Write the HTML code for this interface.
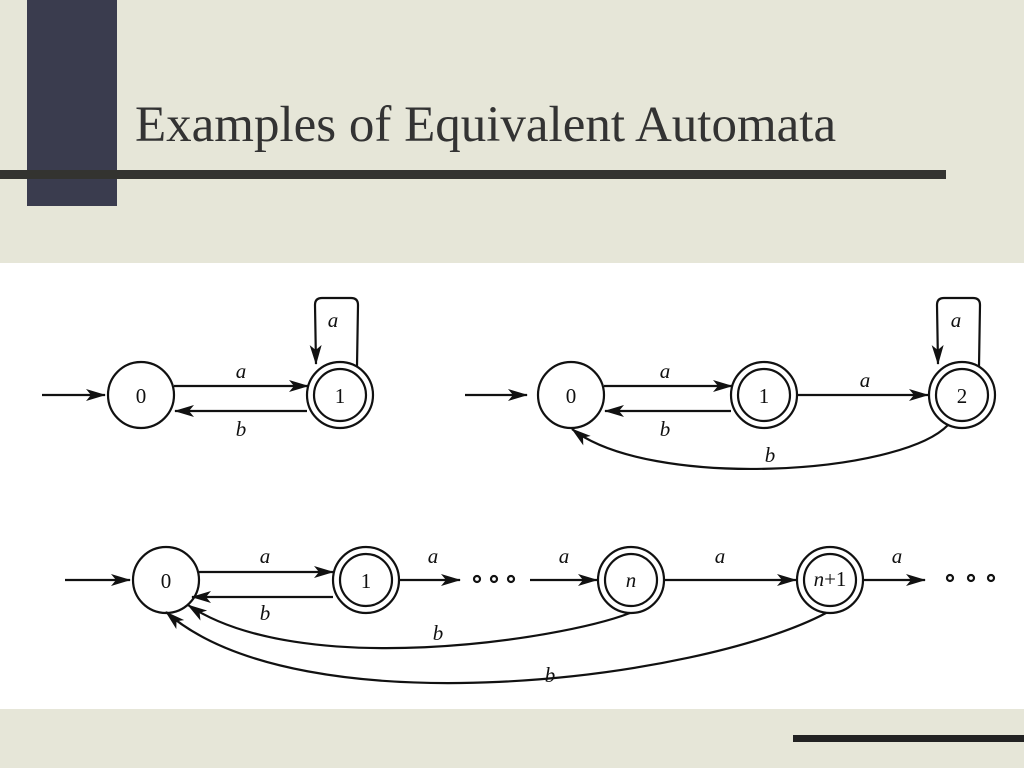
<!DOCTYPE html>
<html><head><style>
html,body{margin:0;padding:0;}
body{width:1024px;height:768px;position:relative;overflow:hidden;background:#e6e6d8;font-family:"Liberation Serif",serif;}
.sq{position:absolute;left:27px;top:0;width:90px;height:206px;background:#3a3c4e;}
.bar{position:absolute;left:0;top:170px;width:946px;height:9px;background:#333330;}
.bar2{position:absolute;left:793px;top:735px;width:231px;height:7px;background:#222;}
h1{position:absolute;left:135px;top:96px;margin:0;font-weight:normal;font-size:51px;color:#333;white-space:nowrap;}
.white{position:absolute;left:0;top:263px;width:1024px;height:446px;background:#fff;}
svg{position:absolute;left:0;top:0;}
text{font-family:"Liberation Serif",serif;font-size:21px;}
</style></head><body>
<div class="sq"></div><div class="bar"></div>
<h1>Examples of Equivalent Automata</h1>
<div class="white"></div>
<div class="bar2"></div>
<svg width="1024" height="768" viewBox="0 0 1024 768">
<defs><marker id="ah" markerWidth="20" markerHeight="12" refX="19" refY="6" orient="auto" markerUnits="userSpaceOnUse"><path d="M0,0 L20,6 L0,12 L5,6 Z" fill="#111"/></marker></defs>
<g stroke="#111" stroke-width="2.2" fill="none">
<!-- automaton 1 -->
<line x1="42" y1="395" x2="105" y2="395" marker-end="url(#ah)"/>
<circle cx="141" cy="395" r="33"/>
<circle cx="340" cy="395" r="33"/><circle cx="340" cy="395" r="26"/>
<line x1="174" y1="386" x2="308" y2="386" marker-end="url(#ah)"/>
<line x1="307" y1="411" x2="175" y2="411" marker-end="url(#ah)"/>
<path d="M357,366 L358,305 Q358,298 351,298 L322,298 Q315,298 315,305 L316,364" marker-end="url(#ah)"/>
<!-- automaton 2 -->
<line x1="465" y1="395" x2="527" y2="395" marker-end="url(#ah)"/>
<circle cx="571" cy="395" r="33"/>
<circle cx="764" cy="395" r="33"/><circle cx="764" cy="395" r="26"/>
<circle cx="962" cy="395" r="33"/><circle cx="962" cy="395" r="26"/>
<line x1="604" y1="386" x2="732" y2="386" marker-end="url(#ah)"/>
<line x1="731" y1="411" x2="605" y2="411" marker-end="url(#ah)"/>
<line x1="797" y1="395" x2="928" y2="395" marker-end="url(#ah)"/>
<path d="M948,425 C900,475 650,490 572,429" marker-end="url(#ah)"/>
<path d="M979,366 L980,305 Q980,298 973,298 L944,298 Q937,298 937,305 L938,364" marker-end="url(#ah)"/>
<!-- automaton 3 -->
<line x1="65" y1="580" x2="130" y2="580" marker-end="url(#ah)"/>
<circle cx="166" cy="580" r="33"/>
<circle cx="366" cy="580" r="33"/><circle cx="366" cy="580" r="26"/>
<circle cx="631" cy="580" r="33"/><circle cx="631" cy="580" r="26"/>
<circle cx="830" cy="580" r="33"/><circle cx="830" cy="580" r="26"/>
<line x1="199" y1="572" x2="333" y2="572" marker-end="url(#ah)"/>
<line x1="333" y1="597" x2="192" y2="597" marker-end="url(#ah)"/>
<line x1="399" y1="580" x2="460" y2="580" marker-end="url(#ah)"/>
<line x1="530" y1="580" x2="597" y2="580" marker-end="url(#ah)"/>
<line x1="664" y1="580" x2="796" y2="580" marker-end="url(#ah)"/>
<line x1="863" y1="580" x2="925" y2="580" marker-end="url(#ah)"/>
<path d="M630,613 C560,640 300,680 188,605" marker-end="url(#ah)"/>
<path d="M826,613 C700,680 300,730 166,612" marker-end="url(#ah)"/>
<circle cx="477" cy="579" r="3"/><circle cx="494" cy="579" r="3"/><circle cx="511" cy="579" r="3"/>
<circle cx="950" cy="578" r="3"/><circle cx="971" cy="578" r="3"/><circle cx="991" cy="578" r="3"/>
</g>
<g fill="#111">
<text x="141" y="403" text-anchor="middle">0</text>
<text x="340" y="403" text-anchor="middle">1</text>
<text x="241" y="378" font-style="italic" text-anchor="middle">a</text>
<text x="241" y="436" font-style="italic" text-anchor="middle">b</text>
<text x="333" y="327" font-style="italic" text-anchor="middle">a</text>
<text x="571" y="403" text-anchor="middle">0</text>
<text x="764" y="403" text-anchor="middle">1</text>
<text x="962" y="403" text-anchor="middle">2</text>
<text x="665" y="378" font-style="italic" text-anchor="middle">a</text>
<text x="665" y="436" font-style="italic" text-anchor="middle">b</text>
<text x="865" y="387" font-style="italic" text-anchor="middle">a</text>
<text x="770" y="462" font-style="italic" text-anchor="middle">b</text>
<text x="956" y="327" font-style="italic" text-anchor="middle">a</text>
<text x="166" y="588" text-anchor="middle">0</text>
<text x="366" y="588" text-anchor="middle">1</text>
<text x="631" y="587" font-style="italic" text-anchor="middle">n</text>
<text x="830" y="586" font-size="17" text-anchor="middle"><tspan font-style="italic">n</tspan>+1</text>
<text x="265" y="563" font-style="italic" text-anchor="middle">a</text>
<text x="265" y="620" font-style="italic" text-anchor="middle">b</text>
<text x="433" y="563" font-style="italic" text-anchor="middle">a</text>
<text x="564" y="563" font-style="italic" text-anchor="middle">a</text>
<text x="720" y="563" font-style="italic" text-anchor="middle">a</text>
<text x="897" y="563" font-style="italic" text-anchor="middle">a</text>
<text x="438" y="640" font-style="italic" text-anchor="middle">b</text>
<text x="550" y="682" font-style="italic" text-anchor="middle">b</text>
</g>
</svg>
</body></html>
